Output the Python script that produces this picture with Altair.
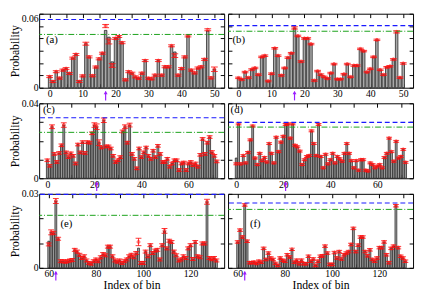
import altair as alt
import pandas as pd
import numpy as np

SERIF = "Liberation Serif"
RED = "#ff1010"
PURPLE = "#9a1cff"
BLUE = "#1a1aff"
GREEN = "#18a018"

# ---------------- data ----------------
a_vals = [0.009, 0.005, 0.013, 0.0078, 0.0143, 0.0155, 0.0116, 0.024, 0.027, 0.005,
          0.0096, 0.0357, 0.025, 0.0097, 0.0168, 0.0234, 0.028, 0.0465, 0.041, 0.021,
          0.040, 0.0415, 0.0365, 0.0064, 0.013, 0.0118, 0.0088, 0.0077, 0.0118, 0.022,
          0.0077, 0.0072, 0.0102, 0.022, 0.0102, 0.017, 0.017, 0.034, 0.029, 0.0102,
          0.0155, 0.025, 0.042, 0.0143, 0.012, 0.016, 0.017, 0.023, 0.046, 0.008, 0.015]
a_pts = {17: 0.050, 18: 0.0375, 19: 0.018, 38: 0.026, 48: 0.047}
a_err = {17: 0.0013, 18: 0.002, 19: 0.0015, 38: 0.0015, 11: 0.0012, 50: 0.0018}

b_vals = [0.008, 0.0067, 0.0127, 0.0082, 0.0148, 0.016, 0.0106, 0.025, 0.026, 0.0054,
          0.0114, 0.032, 0.026, 0.010, 0.016, 0.0244, 0.028, 0.0485, 0.042, 0.0213,
          0.040, 0.040, 0.0354, 0.0059, 0.0135, 0.0106, 0.0088, 0.0075, 0.0119, 0.0192,
          0.007, 0.007, 0.011, 0.0192, 0.0088, 0.018, 0.018, 0.0315, 0.0297, 0.0127,
          0.0153, 0.025, 0.0388, 0.0145, 0.0106, 0.0166, 0.0174, 0.023, 0.0453, 0.0082, 0.0197]
b_pts = {}
b_err = {17: 0.0009, 48: 0.0009}

c_vals = [0.0096, 0.0067, 0.0275, 0.013, 0.0087, 0.0135, 0.0176, 0.0284, 0.0138, 0.0113,
          0.0133, 0.012, 0.0079, 0.018, 0.0138, 0.0193, 0.0135, 0.0193, 0.019, 0.024,
          0.0284, 0.0275, 0.019, 0.0164, 0.031, 0.017, 0.017, 0.0159, 0.012, 0.0087,
          0.0096, 0.0113, 0.025, 0.0275, 0.019, 0.0284, 0.013, 0.0104, 0.0053, 0.0159,
          0.0113, 0.0138, 0.0164, 0.012, 0.0104, 0.0147, 0.0113, 0.0173, 0.013, 0.0087,
          0.0087, 0.0104, 0.0062, 0.0079, 0.0096, 0.0096, 0.0044, 0.0079, 0.0084, 0.0044,
          0.0079, 0.0087, 0.007, 0.0079, 0.0062, 0.0125, 0.021, 0.013, 0.019, 0.022,
          0.014, 0.012, 0.009]
c_pts = {}
c_err = {2: 0.001, 7: 0.0012, 20: 0.0012, 21: 0.0015, 22: 0.0015, 24: 0.0012, 33: 0.001, 35: 0.001}

d_vals = [0.0108, 0.029, 0.0077, 0.0121, 0.0082, 0.0138, 0.0205, 0.0279, 0.0108, 0.0073,
          0.0133, 0.0094, 0.0111, 0.0087, 0.0185, 0.0133, 0.0082, 0.0219, 0.0142, 0.0193,
          0.0224, 0.0287, 0.029, 0.0214, 0.029, 0.0176, 0.0168, 0.0145, 0.0073, 0.0099,
          0.0116, 0.0121, 0.0253, 0.0185, 0.0121, 0.0287, 0.0116, 0.0056, 0.0128, 0.0077,
          0.0099, 0.0133, 0.0082, 0.0116, 0.0104, 0.0091, 0.0133, 0.0185, 0.0133, 0.0094,
          0.0056, 0.0094, 0.0043, 0.0099, 0.0099, 0.0043, 0.0039, 0.0082, 0.0073, 0.0056,
          0.0065, 0.0073, 0.0056, 0.0111, 0.0133, 0.0214, 0.0142, 0.0091, 0.0197, 0.0108,
          0.0116, 0.0154, 0.0085]
d_pts = {0: 0.0077}
d_err = {}

e_vals = [0.0108, 0.0144, 0.0142, 0.0271, 0.0118, 0.0027, 0.0027, 0.0025, 0.0027, 0.003,
          0.0032, 0.0073, 0.0066, 0.0053, 0.004, 0.0047, 0.003, 0.002, 0.0017, 0.0027,
          0.0034, 0.0027, 0.0043, 0.0056, 0.0051, 0.0086, 0.0086, 0.0047, 0.003, 0.0025,
          0.003, 0.002, 0.0027, 0.0034, 0.0047, 0.0053, 0.0043, 0.006, 0.008, 0.002,
          0.002, 0.0066, 0.0047, 0.0092, 0.006, 0.007, 0.0073, 0.0034, 0.0092, 0.015,
          0.0079, 0.011, 0.0105, 0.0066, 0.0051, 0.003, 0.0034, 0.0047, 0.004, 0.0079,
          0.0092, 0.0036, 0.0105, 0.0047, 0.0043, 0.0099, 0.0099, 0.0268, 0.004, 0.0035,
          0.004, 0.003]
e_pts = {98: 0.0105, 60: 0.0095}
e_err = {98: 0.0015, 109: 0.001, 63: 0.001, 127: 0.001, 61: 0.001}

f_vals = [0.0105, 0.0153, 0.0125, 0.0255, 0.0108, 0.0021, 0.0021, 0.0023, 0.0018, 0.0027,
          0.0023, 0.0079, 0.0034, 0.006, 0.004, 0.0034, 0.0018, 0.001, 0.004, 0.0031,
          0.0027, 0.0053, 0.0044, 0.0075, 0.0023, 0.0031, 0.0017, 0.0031, 0.0017, 0.0017,
          0.0047, 0.0027, 0.0036, 0.001, 0.0027, 0.0047, 0.0049, 0.0088, 0.006, 0.0014,
          0.0014, 0.0062, 0.004, 0.0066, 0.0036, 0.0053, 0.006, 0.0066, 0.0095, 0.016,
          0.0066, 0.0092, 0.0125, 0.0125, 0.0066, 0.0049, 0.0073, 0.0034, 0.0027, 0.004,
          0.0082, 0.0082, 0.0105, 0.0053, 0.0021, 0.0079, 0.0088, 0.0252, 0.0082, 0.0047,
          0.004, 0.0027]
f_pts = {}
f_err = {}

# reference lines (blue dashed, green dash-dot) and arrow bins
blue_lines = [0.0553, 0.0503, 0.0323, 0.0298, 0.0298, 0.0263]
green_lines = [0.0432, 0.0458, 0.0245, 0.0273, 0.0213, 0.0237]
arrow_bins = [17, 17, 21, 21, 63, 63]
panel_labels = ["(a)", "(b)", "(c)", "(d)", "(e)", "(f)"]
default_err = [0.0008, 0.0006, 0.0007, 0.0005, 0.0006, 0.0005]

W = 190


def make_panel(vals, start, pt_over, err_def, err_over, blue, green, arrow,
               xdom, ymax, xlab_step, xtick_step, label, label_xy, height,
               show_y, show_xtitle, cap, barw, top_flush):
    bins = list(range(start, start + len(vals)))
    pts = [pt_over.get(b, v) for b, v in zip(bins, vals)]
    errs = [err_over.get(b, err_def) for b in bins]
    df = pd.DataFrame({"bin": bins, "val": vals, "pt": pts,
                       "lo": [p - e for p, e in zip(pts, errs)],
                       "hi": [p + e for p, e in zip(pts, errs)]})

    xticks = [int(t) for t in np.arange(np.ceil(xdom[0] / xtick_step) * xtick_step,
                                        xdom[1] + 0.001, xtick_step)]
    nyt = int(round(ymax / 0.01))
    yticks = [round(i * 0.01, 4) for i in range(nyt + 1)]

    xs = alt.Scale(domain=xdom, nice=False, zero=False)
    ys = alt.Scale(domain=[0, ymax], nice=False, zero=True)

    xaxis_kw = dict(values=xticks, labelExpr=f"datum.value % {xlab_step} == 0 ? datum.label : ''",
                    tickSize=4, offset=-4, domain=False, grid=False, labelPadding=1,
                    labelOverlap=False, labelFlush=False, format="d")
    if show_xtitle:
        xaxis_kw.update(title="Index of bin", titlePadding=1)
    yaxis_kw = dict(values=yticks, tickSize=4, offset=-4, domain=False, grid=False,
                    labelPadding=1, labelOverlap=False, labels=show_y,
                    labelExpr=f"datum.value < 0.000001 ? '0' : (datum.value > {ymax - 0.000001} ? format(datum.value, '.2f') : '')")
    if top_flush:
        yaxis_kw.update(labelBaseline={"condition": {"test": f"datum.value > {ymax - 0.000001}",
                                                     "value": "top"},
                                       "value": "middle"})
    if show_y:
        yaxis_kw.update(title="Probability", titlePadding=0)

    base = alt.Chart(df)
    bars = base.mark_bar(size=barw, fill="#a9a9a9", stroke="#111111", strokeWidth=0.7).encode(
        x=alt.X("bin:Q", scale=xs, axis=alt.Axis(**xaxis_kw),
                title="Index of bin" if show_xtitle else None),
        y=alt.Y("val:Q", scale=ys, axis=alt.Axis(**yaxis_kw), stack=False,
                title="Probability" if show_y else None),
    )
    dummy = base.mark_point(opacity=0).encode(
        x=alt.X("bin:Q", scale=xs, axis=alt.Axis(orient="top", values=xticks, labels=False,
                                                 tickSize=4, offset=-4, domain=False, grid=False),
                title=None),
        y=alt.Y("val:Q", scale=ys, axis=alt.Axis(orient="right", values=yticks, labels=False,
                                                 tickSize=4, offset=-4, domain=False, grid=False),
                title=None),
    )
    err = base.mark_rule(color=RED, strokeWidth=1, opacity=0.85).encode(
        x=alt.X("bin:Q", scale=xs, axis=None), y=alt.Y("lo:Q", scale=ys, axis=None), y2="hi:Q")
    cap_lo = base.mark_tick(orient="horizontal", color=RED, size=cap, thickness=1, opacity=0.85).encode(
        x=alt.X("bin:Q", scale=xs, axis=None), y=alt.Y("lo:Q", scale=ys, axis=None))
    cap_hi = base.mark_tick(orient="horizontal", color=RED, size=cap, thickness=1, opacity=0.85).encode(
        x=alt.X("bin:Q", scale=xs, axis=None), y=alt.Y("hi:Q", scale=ys, axis=None))
    pts_l = base.mark_point(shape="circle", size=9, filled=False, color=RED, strokeWidth=1).encode(
        x=alt.X("bin:Q", scale=xs, axis=None), y=alt.Y("pt:Q", scale=ys, axis=None))

    ref = pd.DataFrame({"blue": [blue], "green": [green], "arrow": [arrow], "label": [label]})
    rbase = alt.Chart(ref)
    blue_l = rbase.mark_rule(color=BLUE, strokeDash=[5, 3], strokeWidth=1.2).encode(
        y=alt.Y("blue:Q", scale=ys, axis=None))
    green_l = rbase.mark_rule(color=GREEN, strokeDash=[6, 2, 1, 2], strokeWidth=1).encode(
        y=alt.Y("green:Q", scale=ys, axis=None))
    arrow_l = rbase.mark_rule(color=PURPLE, strokeWidth=1.2).encode(
        x=alt.X("arrow:Q", scale=xs, axis=None), y=alt.value(height + 4), y2=alt.value(height + 13))
    arrow_h = rbase.mark_point(shape="triangle-up", filled=True, color=PURPLE, size=16, opacity=1).encode(
        x=alt.X("arrow:Q", scale=xs, axis=None), y=alt.value(height + 5))
    text_l = rbase.mark_text(font=SERIF, fontSize=11, color="black").encode(
        x=alt.value(label_xy[0]), y=alt.value(label_xy[1]), text="label:N")

    return alt.layer(bars, dummy, err, cap_lo, cap_hi, pts_l, blue_l, green_l, arrow_l, arrow_h,
                     text_l).resolve_axis(x="independent", y="independent").properties(
        width=W, height=height)


row1_dom = [-1.7, 51.5]
row2_dom = [-1.4, 73.1]
row3_dom = [58.0, 132.2]

pa = make_panel(a_vals, 0, a_pts, default_err[0], a_err, blue_lines[0], green_lines[0], arrow_bins[0],
                row1_dom, 0.06, 10, 5, panel_labels[0], (13, 27), 76, True, False, 7, 2.6, True)
pb = make_panel(b_vals, 0, b_pts, default_err[1], b_err, blue_lines[1], green_lines[1], arrow_bins[1],
                row1_dom, 0.06, 10, 5, panel_labels[1], (11, 27), 76, False, False, 7, 2.6, True)
pc = make_panel(c_vals, 0, c_pts, default_err[2], c_err, blue_lines[2], green_lines[2], arrow_bins[2],
                row2_dom, 0.04, 20, 10, panel_labels[2], (10, 7), 77, True, False, 6, 1.9, False)
pd_ = make_panel(d_vals, 0, d_pts, default_err[3], d_err, blue_lines[3], green_lines[3], arrow_bins[3],
                 row2_dom, 0.04, 20, 10, panel_labels[3], (9, 7), 77, False, False, 6, 1.9, False)
pe = make_panel(e_vals, 60, e_pts, default_err[4], e_err, blue_lines[4], green_lines[4], arrow_bins[4],
                row3_dom, 0.03, 20, 10, panel_labels[4], (28, 31), 76, True, True, 6, 1.9, False)
pf = make_panel(f_vals, 60, f_pts, default_err[5], f_err, blue_lines[5], green_lines[5], arrow_bins[5],
                row3_dom, 0.03, 20, 10, panel_labels[5], (28, 31), 76, False, True, 6, 1.9, False)

chart = alt.concat(pa, pb, pc, pd_, pe, pf, columns=2,
                   spacing={"row": 16, "column": 4}, bounds="flush").properties(
    padding={"left": 0, "top": 1, "right": 0, "bottom": 0}
).configure_view(stroke="black", strokeWidth=1).configure_axis(
    labelFont=SERIF, titleFont=SERIF, labelFontSize=10, titleFontSize=12,
    labelColor="black", tickColor="black", titleColor="black", titleFontWeight="normal"
)

chart.save("out.html", embed_options={"renderer": "svg", "actions": False})
